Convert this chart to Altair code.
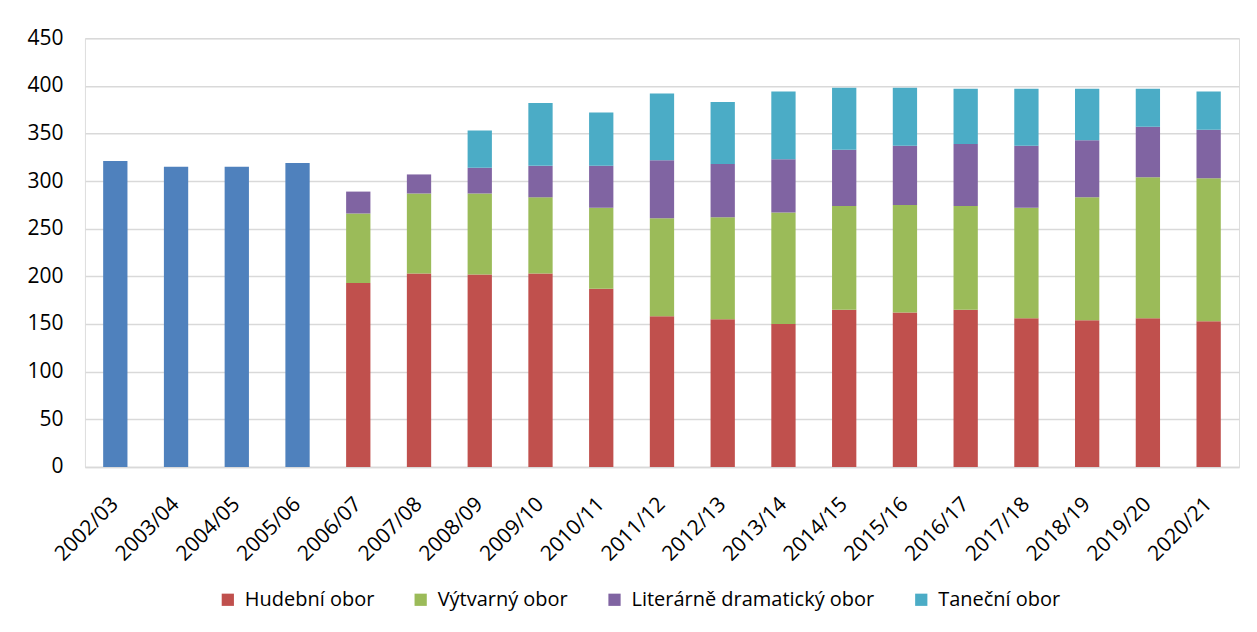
import altair as alt
import pandas as pd

years = ["2002/03", "2003/04", "2004/05", "2005/06", "2006/07", "2007/08",
         "2008/09", "2009/10", "2010/11", "2011/12", "2012/13", "2013/14",
         "2014/15", "2015/16", "2016/17", "2017/18", "2018/19", "2019/20",
         "2020/21"]

# Only totals known for the first four years
celkem = [321, 315, 315, 319, None, None, None, None, None, None, None,
          None, None, None, None, None, None, None, None]
hudebni = [None, None, None, None, 193, 203, 202, 203, 187, 158, 155, 150,
           165, 162, 165, 156, 154, 156, 153]
vytvarny = [None, None, None, None, 73, 84, 85, 80, 85, 103, 107, 117,
            109, 113, 109, 116, 129, 148, 150]
literarne = [None, None, None, None, 23, 20, 27, 33, 44, 61, 56, 56,
             59, 62, 65, 65, 60, 53, 51]
tanecni = [None, None, None, None, None, None, 39, 66, 56, 70, 65, 71,
           65, 61, 58, 60, 54, 40, 40]

series = ["Celkem", "Hudební obor", "Výtvarný obor",
          "Literárně dramatický obor", "Taneční obor"]
colors = ["#4F81BD", "#C0504D", "#9BBB59", "#8064A2", "#4BACC6"]
legend_items = series[1:]

rows = []
for i, y in enumerate(years):
    for k, (name, vals) in enumerate(zip(series, [celkem, hudebni, vytvarny, literarne, tanecni])):
        v = vals[i]
        if v is not None:
            rows.append({"rok": y, "obor": name, "hodnota": v, "poradi": k})
df = pd.DataFrame(rows)

FONT = "Open Sans"

chart = alt.Chart(df).mark_bar().encode(
    x=alt.X("rok:N", sort=years, title=None,
            scale=alt.Scale(paddingInner=0.6, paddingOuter=0.3),
            axis=alt.Axis(labelAngle=315, labelAlign="right", labelBaseline="middle",
                          labelPadding=34, ticks=False, domainColor="#D9D9D9",
                          domainWidth=1.5, labelFontSize=21, labelColor="#000000",
                          labelFont=FONT)),
    y=alt.Y("hodnota:Q", stack="zero", title=None,
            scale=alt.Scale(domain=[0, 450], nice=False),
            axis=alt.Axis(values=[0, 50, 100, 150, 200, 250, 300, 350, 400, 450],
                          domain=False, ticks=False, labelPadding=22,
                          gridColor="#D9D9D9", gridWidth=1.5,
                          labelFontSize=21, labelColor="#000000", labelFont=FONT)),
    color=alt.Color("obor:N", title=None,
                    scale=alt.Scale(domain=series, range=colors),
                    legend=alt.Legend(values=legend_items, orient="none",
                                      direction="horizontal", legendX=133, legendY=552,
                                      symbolType="square", symbolSize=150,
                                      symbolStrokeWidth=0, labelOffset=7,
                                      columnPadding=36, labelFontSize=20,
                                      labelLimit=0,
                                      labelFont=FONT, labelColor="#000000")),
    order=alt.Order("poradi:Q", sort="ascending"),
).properties(
    width=1155, height=429,
    autosize=alt.AutoSizeParams(type="none"),
    padding={"left": 77, "top": 30, "right": 10, "bottom": 157},
).configure_view(stroke=None).configure(background="#FFFFFF")

chart.save("out.html", embed_options={"renderer": "svg", "actions": False})
